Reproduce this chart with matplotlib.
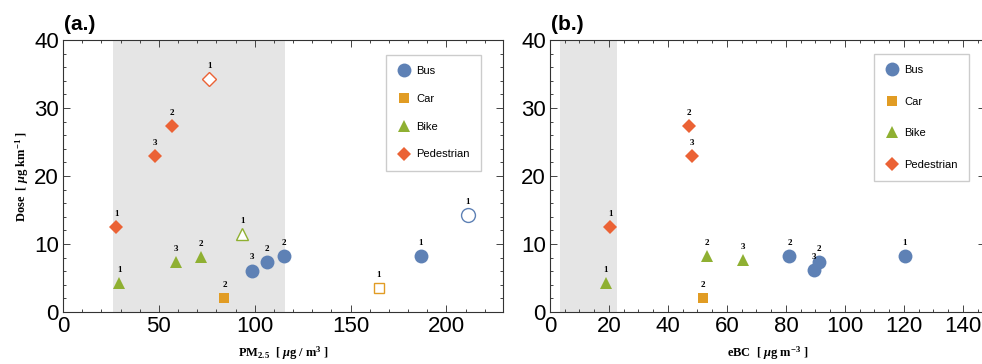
import numpy as np
import matplotlib.pyplot as plt
from matplotlib.ticker import MultipleLocator
from matplotlib.lines import Line2D

plt.rcParams['font.family'] = ['Liberation Sans', 'DejaVu Sans']
plt.rcParams['mathtext.fontset'] = 'custom'
plt.rcParams['mathtext.rm'] = 'Liberation Serif:bold'
plt.rcParams['mathtext.it'] = 'Liberation Serif:italic:bold'
plt.rcParams['mathtext.bf'] = 'Liberation Serif:bold'

# couleurs (palette Mathematica)
c_bus = '#5E81B5'
c_car = '#E19C24'
c_bike = '#8FB032'
c_ped = '#EB6235'

# ---- panel (a.) : PM2.5
pm_bus_x = [211.0, 186.6, 115.4, 106.5, 98.4]
pm_bus_y = [14.3, 8.2, 8.2, 7.3, 6.1]
pm_bus_lab = ['1', '1', '2', '2', '3']
pm_bus_open = [True, False, False, False, False]

pm_car_x = [164.7, 84.2]
pm_car_y = [3.5, 2.0]
pm_car_lab = ['1', '2']
pm_car_open = [True, False]

pm_bike_x = [93.4, 29.3, 72.1, 58.7]
pm_bike_y = [11.4, 4.2, 8.1, 7.4]
pm_bike_lab = ['1', '1', '2', '3']
pm_bike_open = [True, False, False, False]

pm_ped_x = [76.3, 27.9, 57.0, 47.9]
pm_ped_y = [34.3, 12.5, 27.3, 22.9]
pm_ped_lab = ['1', '1', '2', '3']
pm_ped_open = [True, False, False, False]

pm_band = [26, 116]

# ---- panel (b.) : eBC
bc_bus_x = [120.3, 81.2, 91.3, 89.5]
bc_bus_y = [8.3, 8.3, 7.4, 6.2]
bc_bus_lab = ['1', '2', '2', '3']

bc_car_x = [51.9]
bc_car_y = [2.1]
bc_car_lab = ['2']

bc_bike_x = [18.9, 53.3, 65.3]
bc_bike_y = [4.2, 8.2, 7.6]
bc_bike_lab = ['1', '2', '3']

bc_ped_x = [20.4, 47.2, 48.0]
bc_ped_y = [12.5, 27.4, 23.0]
bc_ped_lab = ['1', '2', '3']

bc_band = [3.3, 22.6]

styles = {
    'Bus': (c_bus, 'o', 10),
    'Car': (c_car, 's', 6.5),
    'Bike': (c_bike, '^', 8.5),
    'Pedestrian': (c_ped, 'D', 7),
}

serif_bold = dict(family='Liberation Serif', fontweight='bold')


def trace(ax, nom, X, Y, labs, ouverts=None):
    col, mk, ms = styles[nom]
    if ouverts is None:
        ouverts = [False] * len(X)
    for x, y, l, o in zip(X, Y, labs, ouverts):
        if o:
            ax.plot(x, y, mk, ms=ms, mfc='white', mec=col, mew=1.0, zorder=3)
        else:
            ax.plot(x, y, mk, ms=ms, mfc=col, mec=col, mew=0, zorder=3)
        ax.annotate(l, (x, y), xytext=(0, 6.5), textcoords='offset points',
                    ha='center', va='bottom', fontsize=6.5, **serif_bold)


def habillage(ax, xmax, xmaj, xmin):
    ax.set_xlim(0, xmax)
    ax.set_ylim(0, 40)
    ax.xaxis.set_major_locator(MultipleLocator(xmaj))
    ax.xaxis.set_minor_locator(MultipleLocator(xmin))
    ax.yaxis.set_major_locator(MultipleLocator(10))
    ax.yaxis.set_minor_locator(MultipleLocator(2))
    ax.tick_params(which='both', direction='in', top=True, right=True,
                   color='#444444', width=0.7)
    ax.tick_params(which='major', length=5, labelsize=16, pad=3)
    ax.tick_params(which='minor', length=2.5)
    for s in ax.spines.values():
        s.set_color('#333333')
        s.set_linewidth(0.8)


def legende(ax, anchor, spacing):
    h = []
    for nom, (col, mk, ms) in styles.items():
        h.append(Line2D([], [], ls='', marker=mk, ms=ms, mfc=col, mec=col, mew=0, label=nom))
    leg = ax.legend(handles=h, loc='upper right', bbox_to_anchor=anchor,
                    fontsize=8, labelspacing=spacing, borderpad=1.0,
                    handlelength=1.2, handletextpad=0.5, borderaxespad=0,
                    frameon=True, fancybox=False, framealpha=1)
    leg.get_frame().set_edgecolor('#cccccc')
    leg.get_frame().set_linewidth(1.0)


fig = plt.figure(figsize=(9.82, 3.64), dpi=100)
ax1 = fig.add_axes([63 / 982, 52 / 364, 440 / 982, 272 / 364])
ax2 = fig.add_axes([550 / 982, 52 / 364, 435 / 982, 272 / 364])

# (a.)
ax1.axvspan(pm_band[0], pm_band[1], color='#e5e5e5', lw=0, zorder=0)
trace(ax1, 'Bus', pm_bus_x, pm_bus_y, pm_bus_lab, pm_bus_open)
trace(ax1, 'Car', pm_car_x, pm_car_y, pm_car_lab, pm_car_open)
trace(ax1, 'Bike', pm_bike_x, pm_bike_y, pm_bike_lab, pm_bike_open)
trace(ax1, 'Pedestrian', pm_ped_x, pm_ped_y, pm_ped_lab, pm_ped_open)
habillage(ax1, 229.5, 50, 10)
legende(ax1, (0.95, 0.945), 1.6)
ax1.set_xlabel(r'PM$_{2.5}$  [ $\mu$g / m$^{3}$ ]', fontsize=9, labelpad=5, **serif_bold)
ax1.set_ylabel(r'Dose  [ $\mu$g km$^{-1}$ ]', fontsize=9, labelpad=2, **serif_bold)
fig.text(64 / 982, 1 - 30 / 364, '(a.)', fontsize=15, fontweight='bold')

# (b.)
ax2.axvspan(bc_band[0], bc_band[1], color='#e5e5e5', lw=0, zorder=0)
trace(ax2, 'Bus', bc_bus_x, bc_bus_y, bc_bus_lab)
trace(ax2, 'Car', bc_car_x, bc_car_y, bc_car_lab)
trace(ax2, 'Bike', bc_bike_x, bc_bike_y, bc_bike_lab)
trace(ax2, 'Pedestrian', bc_ped_x, bc_ped_y, bc_ped_lab)
habillage(ax2, 147.5, 20, 5)
legende(ax2, (0.963, 0.949), 1.95)
ax2.set_xlabel(r'eBC  [ $\mu$g m$^{-3}$ ]', fontsize=9, labelpad=5, **serif_bold)
fig.text(551 / 982, 1 - 30 / 364, '(b.)', fontsize=15, fontweight='bold')

fig.savefig('out.png', dpi=100)
